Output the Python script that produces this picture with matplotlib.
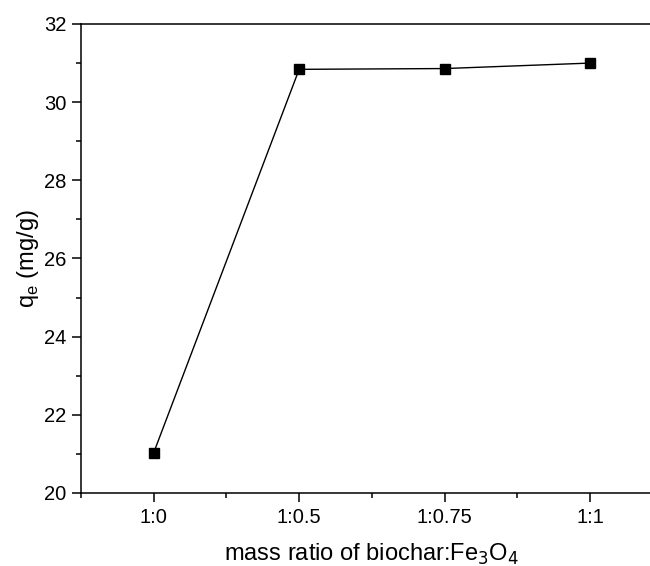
import matplotlib.pyplot as plt
from matplotlib.ticker import MultipleLocator

plt.rcParams['font.family'] = ['Liberation Sans', 'DejaVu Sans']

ratios = ["1:0", "1:0.5", "1:0.75", "1:1"]
qe = [21.03, 30.84, 30.86, 31.0]

fig = plt.figure(figsize=(6.5, 5.66), dpi=100)
ax = fig.add_axes([0.1246, 0.129, 0.895, 0.8286])

x = list(range(1, len(ratios) + 1))
ax.plot(x, qe, color='black', linewidth=1.0, marker='s', markersize=7.5,
        markerfacecolor='black', markeredgecolor='black')

ax.set_xlim(0.5, 4.5)
ax.set_ylim(20, 32)
ax.set_xticks(x)
ax.set_xticklabels(ratios)
ax.xaxis.set_minor_locator(MultipleLocator(0.5))
ax.yaxis.set_major_locator(MultipleLocator(2))
ax.yaxis.set_minor_locator(MultipleLocator(1))

ax.tick_params(axis='both', which='major', direction='out', length=6.5,
               width=1.1, labelsize=14.5, pad=4)
ax.tick_params(axis='both', which='minor', direction='out', length=3.5, width=1.1)
ax.tick_params(top=False, right=False, which='both')

for s in ax.spines.values():
    s.set_linewidth(1.1)

ax.set_xlabel('mass ratio of biochar:Fe$_3$O$_4$', fontsize=17, labelpad=11)
ax.set_ylabel('q$_\\mathregular{e}$ (mg/g)', fontsize=17, labelpad=2)

fig.savefig('out.png', dpi=100)
